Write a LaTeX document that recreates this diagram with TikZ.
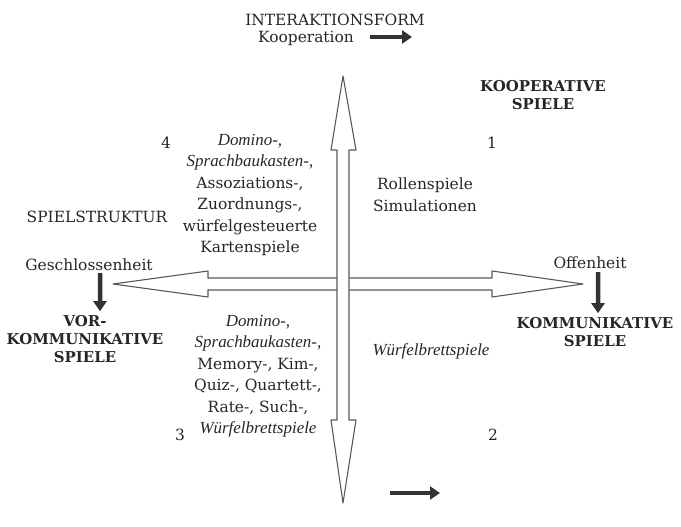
\documentclass[tikz,border=0pt]{standalone}
\usepackage{fontspec}
\setmainfont{DejaVu Serif}
\newfontfamily\listit{Liberation Serif}
\newcommand{\lit}[1]{{\listit\itshape\fontsize{17}{21.6}\selectfont #1}}
\usetikzlibrary{arrows.meta}
\begin{document}
\begin{tikzpicture}
    [
      x=1bp, y=-1bp,
      txt/.style={text=black!85, font=\fontsize{15.5}{21.6}\selectfont, align=center, inner sep=0pt},
      head/.style={text=black!85, font=\fontsize{15}{18}\selectfont\bfseries, align=center, inner sep=0pt},
      bigarrow/.style={draw=black!65, fill=white, line width=1.1bp, line join=round},
      darrow/.style={draw=black!80, line width=4.5bp, -{Triangle[length=10bp,width=13bp]}},
    ]
    \useasboundingbox (0,0) rectangle (681,527);

    % axes
    \draw [bigarrow] (113,284) -- (208,271) -- (208,278) -- (492,278) -- (492,271) --
                     (583,284) -- (492,297) -- (492,290) -- (208,290) -- (208,297) -- cycle;
    \draw [bigarrow] (343,76) -- (356,150) -- (349,150) -- (349,420) -- (356,420) --
                     (343,503) -- (331,420) -- (337,420) -- (337,150) -- (331,150) -- cycle;

    % top
    \node [txt] (form) at (335,20) {INTERAKTIONSFORM};
    \node [txt] (koop) at (306,38) {Kooperation};
    \coordinate (kooparrow) at (370,37);
    \draw [darrow] (kooparrow) -- ++(42,0);
    \node [head] (kooperativ) at (543,95) {KOOPERATIVE\\SPIELE};

    % quadrant numbers
    \foreach \n/\x/\y in {1/492/143,2/493/435,3/180/435,4/166/143} {
      \node [txt] (q\n) at (\x,\y) {\n};
    }

    % quadrants
    \node [txt] (spiele4) at (250,195) {\lit{Domino-,}\\\lit{Sprachbaukasten-,}\\Assoziations-,\\Zuordnungs-,\\würfelgesteuerte\\Kartenspiele};
    \node [txt] (spiele1) at (425,195) {Rollenspiele\\Simulationen};
    \node [txt] (spiele3) at (258,376) {\lit{Domino-,}\\\lit{Sprachbaukasten-,}\\Memory-, Kim-,\\Quiz-, Quartett-,\\Rate-, Such-,\\\lit{Würfelbrettspiele}};
    \node [txt] (spiele2) at (431,351) {\lit{Würfelbrettspiele}};

    % left
    \node [txt] (struktur) at (97,217) {SPIELSTRUKTUR};
    \node [txt] (geschl) at (89,265) {Geschlossenheit};
    \node [head] (vorkomm) at (85,339) {VOR-\\KOMMUNIKATIVE\\SPIELE};
    \draw [darrow] ([xshift=11bp,yshift=-2bp]geschl.south) -- ([xshift=15bp,yshift=4bp]vorkomm.north);

    % right
    \node [txt] (offen) at (590,263) {Offenheit};
    \node [head] (komm) at (595,332) {KOMMUNIKATIVE\\SPIELE};
    \draw [darrow] ([xshift=8bp,yshift=-3bp]offen.south) -- ([xshift=3bp,yshift=4bp]komm.north);

    % bottom
    \coordinate (bottomarrow) at (390,493);
    \draw [darrow] (bottomarrow) -- ++(50,0);
  \end{tikzpicture}
\end{document}
